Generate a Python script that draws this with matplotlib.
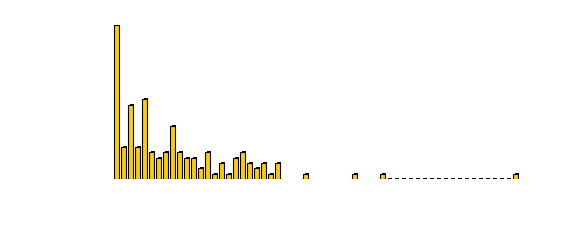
import numpy as np
import matplotlib
matplotlib.use('Agg')
import matplotlib.pyplot as plt
import matplotlib.patheffects as pe

# valores (nan = sem barra, 0 = barra vazia tracejada)
valores = [29, 6, 14, 6, 15, 5, 4, 5, 10, 5, 4, 4, 2, 5, 1, 3, 1, 4, 5, 3, 2, 3, 1, 3,
           np.nan, np.nan, np.nan, 1,
           np.nan, np.nan, np.nan, np.nan, np.nan, np.nan, 1,
           np.nan, np.nan, np.nan, 1,
           0, 0, 0, 0, 0, 0, 0, 0, 0, 0, 0, 0, 0, 0, 0, 0, 0, 0,
           1]
x = np.arange(len(valores))
v = np.array(valores, dtype=float)

fig = plt.figure(figsize=(5.8, 2.41), dpi=100)
ax = fig.add_axes([113 / 580, 62 / 241, 406 / 580, 154 / 241])

cheios = np.where(v > 0, v, np.nan)
barras = ax.bar(x, cheios, width=0.62, color='#FFCC00', edgecolor='black', linewidth=0.8)
for b in barras:
    b.set_path_effects([pe.SimplePatchShadow(offset=(1.2, 0.8), shadow_rgbFace='black', alpha=1),
                        pe.Normal()])

# barras com valor zero aparecem como tracos na base
zeros = x[v == 0]
ax.hlines(np.full(len(zeros), 0.1), zeros - 0.15, zeros + 0.25, colors='black',
          linewidth=0.72, clip_on=False, antialiased=False)

ax.set_xlim(-0.5, len(valores) - 0.5)
ax.set_ylim(0, 29)
ax.axis('off')

fig.savefig('out.png', dpi=100)
